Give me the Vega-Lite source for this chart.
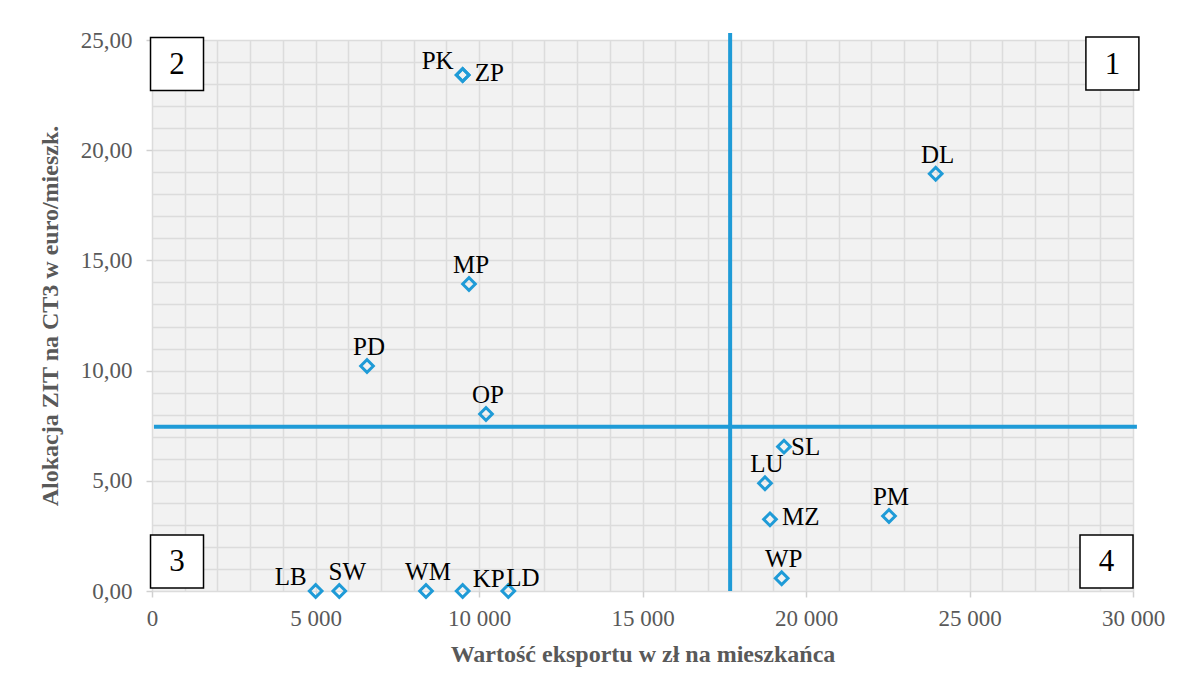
{
  "$schema": "https://vega.github.io/schema/vega-lite/v6.json",
  "width": 981,
  "height": 551,
  "autosize": {"type": "none"},
  "padding": {"left": 152, "top": 40, "right": 48, "bottom": 104},
  "background": "white",
  "config": {
    "locale": {"number": {"decimal": ",", "thousands": " ", "grouping": [3], "currency": ["", " zł"]}},
    "view": {"fill": "#f2f2f2", "stroke": null},
    "font": "Liberation Serif",
    "axis": {
      "labelFont": "Liberation Serif",
      "labelFontSize": 23,
      "labelColor": "#595959",
      "titleFont": "Liberation Serif",
      "titleFontSize": 24,
      "titleFontWeight": "bold",
      "titleColor": "#595959",
      "gridColor": "#dcdcdc",
      "gridWidth": 1.5,
      "gridOpacity": 1,
      "tickColor": "#d0d0d0",
      "tickSize": 6,
      "tickWidth": 1.5,
      "domain": false,
      "labelOverlap": false,
      "labelFlush": false
    }
  },
  "datasets": {
    "regions": [
      {"name": "PK", "export": 9500, "zit": 23.41},
      {"name": "ZP", "export": 9500, "zit": 23.41},
      {"name": "DL", "export": 23966, "zit": 18.93},
      {"name": "MP", "export": 9694, "zit": 13.93},
      {"name": "PD", "export": 6575, "zit": 10.21},
      {"name": "OP", "export": 10214, "zit": 8.03},
      {"name": "SL", "export": 19327, "zit": 6.55},
      {"name": "LU", "export": 18746, "zit": 4.89},
      {"name": "MZ", "export": 18899, "zit": 3.25},
      {"name": "PM", "export": 22538, "zit": 3.40},
      {"name": "WP", "export": 19256, "zit": 0.58},
      {"name": "LB", "export": 5005, "zit": 0},
      {"name": "SW", "export": 5727, "zit": 0},
      {"name": "WM", "export": 8379, "zit": 0},
      {"name": "KP", "export": 9500, "zit": 0},
      {"name": "LD", "export": 10896, "zit": 0}
    ],
    "quadrants": [
      {"n": "1", "export": 29370, "zit": 23.93},
      {"n": "2", "export": 765, "zit": 23.91},
      {"n": "3", "export": 765, "zit": 1.34},
      {"n": "4", "export": 29190, "zit": 1.34}
    ],
    "vline": [{"export": 17680, "zit": 0, "zit2": 25.32}],
    "hline": [{"export": 60, "export2": 30120, "zit": 7.45}]
  },
  "encoding": {
    "x": {
      "field": "export", "type": "quantitative",
      "scale": {"domain": [0, 30000], "nice": false, "zero": false},
      "title": "Wartość eksportu w zł na mieszkańca",
      "axis": {
        "values": [0,1000,2000,3000,4000,5000,6000,7000,8000,9000,10000,11000,12000,13000,14000,15000,16000,17000,18000,19000,20000,21000,22000,23000,24000,25000,26000,27000,28000,29000,30000],
        "tickCount": 100,
        "format": ",.0f",
        "labelExpr": "datum.value % 5000 === 0 ? datum.label : ''",
        "labelOverlap": false,
        "tickOpacity": {"condition": {"test": "datum.value % 5000 === 0", "value": 1}, "value": 0},
        "labelPadding": 10,
        "titlePadding": 12,
        "grid": true
      }
    },
    "y": {
      "field": "zit", "type": "quantitative",
      "scale": {"domain": [0, 25], "nice": false, "zero": false},
      "title": "Alokacja ZIT na CT3 w euro/mieszk.",
      "axis": {
        "values": [0,1,2,3,4,5,6,7,8,9,10,11,12,13,14,15,16,17,18,19,20,21,22,23,24,25],
        "tickCount": 100,
        "format": ",.2f",
        "labelExpr": "datum.value % 5 === 0 ? datum.label : ''",
        "labelOverlap": false,
        "tickOpacity": {"condition": {"test": "datum.value % 5 === 0", "value": 1}, "value": 0},
        "labelPadding": 14,
        "titlePadding": 18,
        "grid": true
      }
    }
  },
  "layer": [
    {
      "data": {"name": "vline"},
      "mark": {"type": "rule", "color": "#1f9bd7", "strokeWidth": 4},
      "encoding": {
        "y2": {"field": "zit2"}
      }
    },
    {
      "data": {"name": "hline"},
      "mark": {"type": "rule", "color": "#1f9bd7", "strokeWidth": 4},
      "encoding": {
        "x2": {"field": "export2"}
      }
    },
    {
      "data": {"name": "regions"},
      "mark": {"type": "point", "shape": "diamond", "filled": false, "color": "#1f9bd7", "strokeWidth": 3, "size": 160, "opacity": 1},
      "encoding": {}
    },
    {
      "data": {"name": "regions"},
      "transform": [{"filter": {"field": "name", "oneOf": ["DL", "MP", "PD", "OP", "LU", "PM", "WP", "WM"]}}],
      "mark": {"type": "text", "font": "Liberation Serif", "fontSize": 25, "color": "black", "align": "center", "baseline": "alphabetic", "dx": 2, "dy": -11},
      "encoding": {"text": {"field": "name"}}
    },
    {
      "data": {"name": "regions"},
      "transform": [{"filter": {"field": "name", "oneOf": ["MZ", "ZP"]}}],
      "mark": {"type": "text", "font": "Liberation Serif", "fontSize": 25, "color": "black", "align": "left", "baseline": "middle", "dx": 12, "dy": -2},
      "encoding": {"text": {"field": "name"}}
    },
    {
      "data": {"name": "regions"},
      "transform": [{"filter": {"field": "name", "oneOf": ["SL"]}}],
      "mark": {"type": "text", "font": "Liberation Serif", "fontSize": 25, "color": "black", "align": "left", "baseline": "middle", "dx": 7, "dy": 0},
      "encoding": {"text": {"field": "name"}}
    },
    {
      "data": {"name": "regions"},
      "transform": [{"filter": {"field": "name", "oneOf": ["PK", "LB"]}}],
      "mark": {"type": "text", "font": "Liberation Serif", "fontSize": 25, "color": "black", "align": "right", "baseline": "alphabetic", "dx": -9, "dy": -6},
      "encoding": {"text": {"field": "name"}}
    },
    {
      "data": {"name": "regions"},
      "transform": [{"filter": {"field": "name", "oneOf": ["SW"]}}],
      "mark": {"type": "text", "font": "Liberation Serif", "fontSize": 25, "color": "black", "align": "center", "baseline": "alphabetic", "dx": 8, "dy": -11},
      "encoding": {"text": {"field": "name"}}
    },
    {
      "data": {"name": "regions"},
      "transform": [{"filter": {"field": "name", "oneOf": ["KP"]}}],
      "mark": {"type": "text", "font": "Liberation Serif", "fontSize": 25, "color": "black", "align": "left", "baseline": "alphabetic", "dx": 10, "dy": -4},
      "encoding": {"text": {"field": "name"}}
    },
    {
      "data": {"name": "regions"},
      "transform": [{"filter": {"field": "name", "oneOf": ["LD"]}}],
      "mark": {"type": "text", "font": "Liberation Serif", "fontSize": 25, "color": "black", "align": "left", "baseline": "alphabetic", "dx": -2, "dy": -5},
      "encoding": {"text": {"field": "name"}}
    },
    {
      "data": {"name": "quadrants"},
      "mark": {"type": "square", "filled": true, "fill": "white", "stroke": "black", "strokeWidth": 1.5, "size": 2809, "opacity": 1},
      "encoding": {}
    },
    {
      "data": {"name": "quadrants"},
      "mark": {"type": "text", "font": "Liberation Serif", "fontSize": 31, "color": "black", "align": "center", "baseline": "middle", "dy": 1},
      "encoding": {"text": {"field": "n"}}
    }
  ]
}
